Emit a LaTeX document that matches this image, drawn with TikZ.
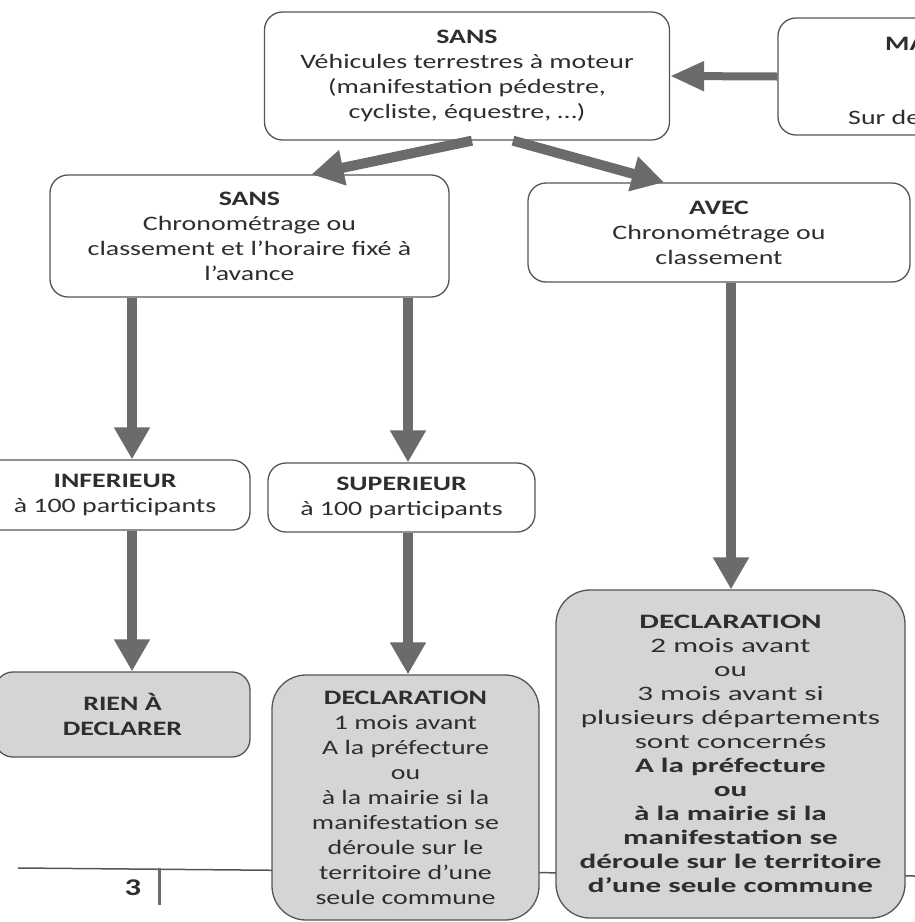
\documentclass[tikz,border=0pt]{standalone}
\usepackage{fontspec}
\setmainfont{Carlito}[FakeStretch=1.36]
\newfontfamily\declfont{Carlito}[FakeStretch=1.52]
\usepackage{tikz}
\usepackage{tkz-euclide}
\usetikzlibrary{arrows.meta}

\definecolor{trait}{HTML}{555555}
\definecolor{gris}{HTML}{6B6B6B}
\definecolor{fond}{HTML}{D5D5D5}
\definecolor{encre}{HTML}{2E2E2E}

\begin{document}
\begin{tikzpicture}[x=1pt,y=-1pt,
  boite/.style={draw=trait, line width=1.3pt, rounded corners=18pt, inner sep=0pt,
    align=center, text=encre, font=\fontsize{20.5}{25}\selectfont},
  grise/.style={boite, fill=fond, rounded corners=34pt},
  flecheg/.style={draw=gris, line width=10pt, -{Triangle[length=32pt,width=34pt]}}]

%Cadre de la page numerisee
\fill[white] (0,0) rectangle (915,922);
\useasboundingbox (0,0) rectangle (915,922);
\clip (0,0) rectangle (915,922);

%Centres des cases (x/y/NomduPoint)
\tkzDefPoints{
467/76/T,
939/76.5/M,
249.5/236/S,
719/232.5/V,
115/495/I,
401.5/497.5/P,
122.5/714.5/R,
405.5/797.5/D,
730.5/754/E}

%Pied de page
%---------------------------------------------------
\draw[draw=trait, line width=1.5pt] (18,868) -- (915,876);
\draw[draw=gris, line width=3pt] (159,868) -- (159,905);
\node[font=\bfseries\fontsize{24}{24}\selectfont, text=encre] (page) at (133,888) {3};
%---------------------------------------------------

%Cases du haut
%---------------------------------------------------
\node[boite, minimum width=405pt, minimum height=128pt] (top) at (T)
  {\textbf{SANS}\\Véhicules terrestres à moteur\\(manifestation pédestre,\\cycliste, équestre, …)};
\node[boite, minimum width=322pt, minimum height=117pt] (manif) at (M) {};
\node[anchor=west, inner sep=0pt, text=encre, font=\bfseries\fontsize{20.5}{25}\selectfont] (ma) at (885,44) {MA};
\node[anchor=west, inner sep=0pt, text=encre, font=\fontsize{20.5}{25}\selectfont] (surde) at (848,117) {Sur de};
%---------------------------------------------------

\node[boite, minimum width=399pt, minimum height=122pt] (sans) at (S)
  {\textbf{SANS}\\Chronométrage ou\\classement et l’horaire fixé à\\l’avance};
\node[boite, minimum width=382pt, minimum height=99pt] (avec) at (V)
  {\textbf{AVEC}\\Chronométrage ou\\classement};

\node[boite, minimum width=270pt, minimum height=70pt] (inf) at (I)
  {\textbf{INFERIEUR}\\à 100 participants};
\node[boite, minimum width=267pt, minimum height=69pt] (sup) at (P)
  {\textbf{SUPERIEUR}\\à 100 participants};

%Cases grises
%---------------------------------------------------
\node[grise, rounded corners=18pt, minimum width=255pt, minimum height=85pt] (rien) at (R)
  {\textbf{RIEN À}\\\textbf{DECLARER}};
\node[grise, minimum width=267pt, minimum height=245pt] (declA) at (D)
  {\textbf{DECLARATION}\\1 mois avant\\A la préfecture\\ou\\à la mairie si la\\manifestation se\\déroule sur le\\territoire d’une\\seule commune};
\node[grise, minimum width=349pt, minimum height=328pt, font=\declfont\fontsize{20.5}{24}\selectfont] (declB) at (E)
  {\textbf{DECLARATION}\\2 mois avant\\ou\\3 mois avant si\\plusieurs départements\\sont concernés\\\textbf{A la préfecture}\\\textbf{ou}\\\textbf{à la mairie si la}\\\textbf{manifestation se}\\\textbf{déroule sur le territoire}\\\textbf{d’une seule commune}};
%---------------------------------------------------

%Fleches
%---------------------------------------------------
\draw[flecheg, line width=8pt, -{Triangle[length=34pt,width=28pt]}] (manif.west) -- (top.east);
\draw[flecheg] ([xshift=5pt]top.south) -- ([xshift=62pt]sans.north);
\draw[flecheg] ([xshift=46pt]top.south) -- ([xshift=-55pt]avec.north);

\draw[flecheg] ([xshift=-117.5pt]sans.south) -- ([xshift=17pt]inf.north);
\draw[flecheg] ([xshift=158.5pt]sans.south) -- ([xshift=6.5pt]sup.north);
\draw[flecheg] ([xshift=12pt]avec.south) -- ([xshift=0.5pt]declB.north);

\draw[flecheg] ([xshift=17pt]inf.south) -- ([xshift=9.5pt]rien.north);
\draw[flecheg] ([xshift=6.5pt]sup.south) -- ([xshift=2.5pt]declA.north);
%---------------------------------------------------

\end{tikzpicture}
\end{document}
